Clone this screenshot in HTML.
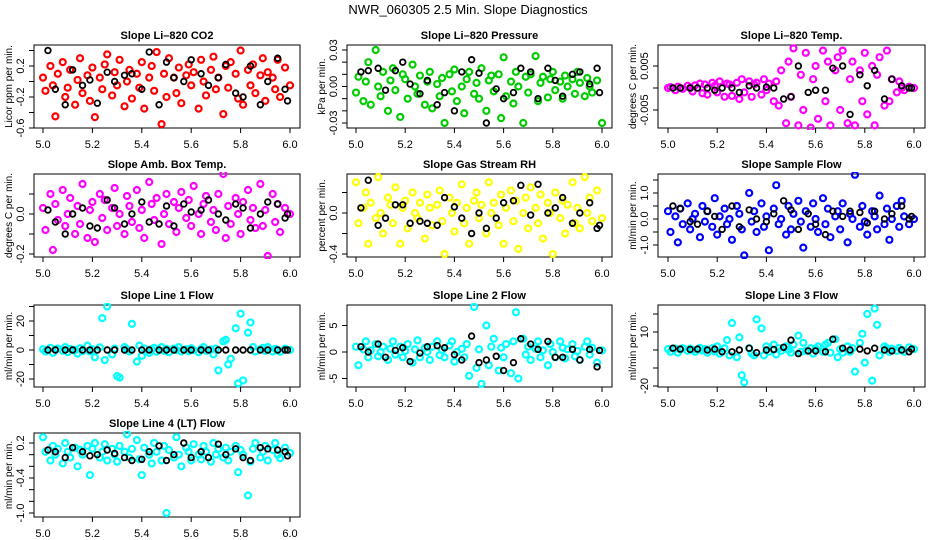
<!DOCTYPE html>
<html><head><meta charset="utf-8">
<style>
html,body{margin:0;padding:0;background:#fff;}
svg{display:block;font-family:"Liberation Sans",Arial,sans-serif;}
</style></head>
<body>
<svg id="chart" width="936" height="540" viewBox="0 0 936 540" xmlns="http://www.w3.org/2000/svg">
<defs id="defs"></defs>
<text x="468" y="14" text-anchor="middle" font-size="13">NWR_060305  2.5 Min. Slope Diagnostics</text>
</svg>
<script>
const xColored=[5.00,5.01,5.03,5.04,5.05,5.06,5.08,5.09,5.10,5.11,5.13,5.14,5.15,5.16,5.18,5.19,5.20,5.21,5.23,5.24,5.25,5.26,5.28,5.29,5.30,5.31,5.33,5.34,5.35,5.36,5.38,5.39,5.40,5.41,5.43,5.44,5.45,5.46,5.48,5.49,5.50,5.51,5.53,5.54,5.55,5.56,5.58,5.59,5.60,5.61,5.63,5.64,5.65,5.66,5.68,5.69,5.70,5.71,5.73,5.74,5.75,5.76,5.78,5.79,5.80,5.81,5.83,5.84,5.85,5.86,5.88,5.89,5.90,5.91,5.93,5.94,5.95,5.96,5.98,6.00];
const xBlack=[5.02,5.05,5.09,5.12,5.16,5.19,5.22,5.26,5.29,5.33,5.36,5.40,5.43,5.47,5.50,5.53,5.57,5.60,5.64,5.67,5.71,5.74,5.78,5.81,5.84,5.88,5.91,5.95,5.98,5.99];
const xTicks=[5.0,5.2,5.4,5.6,5.8,6.0];
const xTickLabels=["5.0","5.2","5.4","5.6","5.8","6.0"];

const co2Values=[0.05,-0.12,0.2,-0.05,-0.45,0.1,0.25,-0.2,-0.08,0.15,-0.3,0.02,0.3,-0.15,0.08,-0.25,0.18,-0.46,0.05,-0.1,0.22,0.35,-0.18,0.12,-0.05,0.28,-0.32,0.0,0.15,-0.22,0.1,-0.08,0.25,-0.35,0.05,0.2,-0.12,0.38,-0.55,0.1,-0.2,0.3,0.05,-0.15,0.18,-0.28,0.08,0.22,-0.05,0.12,-0.35,0.28,0.0,-0.18,0.15,0.32,-0.1,0.05,-0.42,0.2,-0.08,0.25,0.1,-0.22,0.4,-0.3,0.15,-0.05,0.22,-0.15,0.08,0.3,-0.25,0.12,0.05,-0.1,0.28,-0.2,0.18,-0.05];
const co2Black=[0.4,-0.1,-0.3,0.15,-0.05,0.02,-0.28,0.12,0.0,0.08,0.1,-0.1,0.38,-0.3,0.25,0.05,0.0,0.28,0.1,-0.05,0.05,0.22,-0.15,-0.2,0.2,-0.3,0.0,0.3,-0.1,-0.25];
const pressValues=[-0.005,0.008,-0.012,0.004,0.02,-0.015,0.03,0.0,-0.008,0.012,-0.02,0.005,0.015,-0.003,-0.025,0.01,0.006,-0.01,0.018,0.0,-0.006,0.009,-0.015,0.004,0.012,-0.018,0.002,-0.008,0.007,-0.03,0.01,-0.004,0.014,-0.012,0.0,-0.022,0.006,0.012,-0.006,0.003,-0.01,0.015,-0.02,0.005,0.009,-0.004,0.01,-0.026,0.024,-0.008,0.004,-0.014,0.012,0.0,-0.03,0.008,-0.005,0.01,0.025,-0.012,0.003,0.008,-0.009,0.006,0.012,-0.003,0.004,-0.01,0.009,0.0,0.006,-0.006,0.012,0.003,-0.008,0.007,0.0,-0.005,0.005,-0.03];
const pressBlack=[0.012,0.013,0.015,-0.003,0.013,0.02,0.002,-0.006,0.005,-0.015,-0.005,-0.02,0.012,0.022,0.011,-0.03,-0.002,-0.01,-0.005,0.015,0.012,-0.01,0.015,0.005,-0.008,0.01,0.012,0.002,0.015,-0.005];
const tempValues=[0,0.0002,-0.0005,0.0003,0,-0.0002,0.0005,0,-0.0008,0.0006,0.001,-0.0012,0.0008,-0.0015,0.0012,0.0005,-0.001,0.0015,-0.002,0.001,0.0008,-0.0018,0.0012,-0.0025,0.002,-0.001,0.0015,-0.002,0.0008,0.0012,-0.0015,0.002,-0.0005,0.001,-0.003,0.0015,-0.004,0.004,-0.008,0.006,-0.002,0.009,-0.0085,0.003,-0.005,0.008,-0.009,0.002,0.005,-0.007,0.0085,-0.003,0.006,-0.0085,0.004,0.007,-0.005,0.0085,-0.008,0.002,0.006,-0.0085,0.004,-0.003,0.008,-0.006,0.005,-0.0085,0.003,0.007,-0.004,0.0085,-0.003,0.002,-0.001,0.0015,0,-0.0005,0.0003,0];
const tempBlack=[0,0,0,0,0,-0.0005,0,0,-0.001,0.0005,0,0.0002,0,-0.0025,-0.002,0.005,-0.001,-0.0005,-0.0005,0.0045,0.005,-0.006,0.003,0.0005,0.004,-0.0025,0.002,0.0005,0,0];
const ambValues=[0.03,-0.08,0.1,-0.18,0.05,-0.03,0.12,-0.06,0.0,0.08,-0.1,0.04,-0.05,0.15,-0.12,0.02,0.06,-0.14,0.1,-0.02,0.07,-0.08,0.03,0.13,-0.06,0.0,-0.1,0.09,0.04,-0.04,0.12,-0.07,0.02,-0.12,0.16,0.05,-0.03,0.08,-0.15,0.0,0.1,-0.05,0.06,-0.09,0.03,0.11,-0.02,0.07,-0.06,0.14,0.0,-0.1,0.05,0.09,-0.04,0.02,-0.08,0.1,0.2,-0.12,0.04,-0.05,0.08,0.0,-0.1,0.06,0.12,-0.03,0.03,-0.07,0.15,-0.06,0.02,-0.21,0.1,-0.04,0.05,-0.09,0.03,0.0];
const ambBlack=[0.02,-0.04,-0.1,0.0,0.03,-0.06,-0.07,0.07,0.03,-0.05,0.0,0.06,-0.04,-0.05,0.04,-0.06,0.05,0.01,0.02,0.07,0.0,-0.03,0.05,0.03,-0.07,0.0,0.06,0.05,-0.02,0.0];
const rhValues=[0.3,-0.1,0.05,0.2,-0.3,0.1,-0.05,0.35,0.0,-0.2,0.15,0.08,-0.1,0.25,-0.3,0.05,0.12,-0.15,0.2,0.0,-0.05,0.1,-0.25,0.18,0.05,-0.12,0.08,0.22,-0.08,-0.4,0.15,0.0,-0.18,0.1,0.28,-0.1,0.05,-0.3,0.12,0.2,-0.05,0.08,-0.2,0.3,0.0,0.1,-0.12,0.18,-0.3,0.05,0.22,-0.08,0.12,-0.35,0.0,0.15,-0.15,0.25,0.05,-0.1,0.18,-0.25,0.1,0.0,-0.4,0.2,-0.05,0.12,-0.2,0.08,0.3,-0.1,0.05,-0.15,0.35,0.0,0.15,-0.08,0.22,-0.05];
const rhBlack=[0.05,0.32,-0.12,-0.05,0.08,0.08,-0.1,-0.08,-0.1,-0.12,0.15,0.06,-0.05,-0.2,0.0,-0.15,-0.05,0.1,0.12,0.27,-0.02,0.28,0.0,0.05,0.15,-0.1,0.0,0.1,-0.15,-0.12];
const sampleValues=[0.3,-0.5,0.1,-0.9,0.4,-0.2,0.6,-0.4,0.0,0.2,-0.7,0.5,-0.1,0.3,-0.3,0.8,-0.6,0.1,0.4,-0.2,0.0,-0.8,0.5,0.2,-0.4,-1.4,1.0,-0.1,0.3,-0.5,0.6,-0.3,0.1,-1.2,0.4,1.3,-0.2,0.0,-0.6,0.5,-0.4,0.2,0.7,-0.1,-1.1,0.3,-0.3,0.6,0.0,-0.5,0.8,-0.2,0.4,-0.7,0.1,0.3,-0.4,0.6,-0.9,0.2,0.0,1.7,-0.3,0.5,-0.1,-0.6,0.3,0.1,-0.4,0.9,-0.2,0.4,-0.8,0.0,0.5,-0.3,0.7,0.1,-0.2,0.0];
const sampleBlack=[0.5,0.4,-0.1,-0.2,0.3,0.1,-0.4,0.5,-0.3,0.35,0.0,-0.1,0.2,0.7,0.35,-0.4,0.2,-0.2,-0.6,0.3,0.1,0.3,0.25,-0.15,0.3,0.0,0.2,0.5,0.0,0.1];
const line1Values=[0.5,-1,1.5,-2,0.3,1,-0.5,2,-1.5,0.8,0,-2.5,1.2,-0.8,3,-1,0.5,-5,1.8,22,-7,30,-3,1,-18,-19,2,0.5,-1,18,-8,3,-4,1,-2,0.5,1.5,-1.2,2,-0.5,0.8,-1.5,1,0,2,-1,0.5,-0.8,1.2,0,-1.5,0.6,2,-0.5,0.3,-3,1,-14,6,7,-10,-6,15,-23,25,-21,12,19,2,-1,0.5,1.5,-0.6,2,-1,0.8,0,-1.2,1,0];
const line1Black=[0,0,0,0,0,0,0,0,0,0,0,0,0,0,0,0,0,0,0,0,0,0,0,0,0,0,0,0,0,0];
const line2Values=[1,-2.5,0.5,2,-1,0.3,1.5,-0.8,0,1,-1.5,0.6,2,-0.5,1,-1,0.2,1.5,-2,0.5,2.2,-1,0.8,0,-1.5,1,2,-0.6,0.4,-1,1.2,2,-1.8,0,0.6,-1,1.5,-4.5,8.5,-3,0.5,-6,5,-2.5,1,2.5,-3.5,0.8,-1,1.5,-4,2,7.5,-5,2.5,-0.5,1,-1.5,0.6,2,-1,0.3,-2.5,1.5,0,-1,2,0.8,-1.2,0.5,1.5,-0.8,0.2,-1.5,1,2,-0.5,0.8,-2,0.3];
const line2Black=[1,0,1.5,-1,0.3,0.8,-1.8,-0.2,1,1.2,0.8,-0.5,-1.5,3,-2,-1.5,-0.8,-3.5,-2,2.5,1.5,0.5,2,-1,-1,0.5,-1.5,0.5,-2.8,0.3];
const line3Values=[0.5,-1,0.8,-1.5,0.3,1,-0.5,0.8,0,-1,1.2,-0.3,0.5,-1.5,1,-0.8,2,-2,1,5.5,-3,15,-4,7,-14,-18,1,-2,-3,17,12,-3,2,-1,3,-2.5,1,-0.5,2,0,-1.5,3,8,-1,4,-0.5,1,-2,0.8,2,-1,3,4,-1.5,6,-4,0.5,-1.5,2,-1,1,-12,4,9,-7,20,-17,23,14,-3,2,1,-1,0.8,-0.5,1.2,0,-1,1.5,0.5];
const line3Black=[1,0.5,0.3,0.5,0,0.5,-1,-1,0,1,-1.5,0,0.3,1.5,5.5,-2,-0.5,-0.5,-1,6,1,0,0.5,-0.5,1,0,-0.5,0,-1,0.5];
const line4Values=[0.3,0.05,-0.1,0.15,0.0,0.1,-0.15,0.2,0.05,-0.05,0.12,-0.2,0.08,0.0,0.15,-0.35,0.1,0.2,-0.05,0.05,0.18,-0.1,0.1,0.0,-0.12,0.15,0.05,0.35,-0.05,0.1,0.25,-0.08,-0.35,0.12,0.0,-0.15,0.2,0.05,-0.1,0.15,-1.0,0.08,-0.05,0.3,0.0,-0.2,0.12,0.05,-0.1,0.18,0.0,-0.08,0.15,0.05,-0.12,0.2,0.0,0.1,-0.05,0.12,-0.1,0.05,0.15,-0.3,0.08,0.0,-0.7,-0.12,0.1,0.2,-0.05,0.05,0.15,-0.1,0.08,0.2,0.0,-0.06,0.12,0.03];
const line4Black=[0.08,0.05,-0.05,0.12,0.05,-0.02,0.0,0.08,0.02,-0.05,-0.1,-0.08,0.05,0.15,-0.1,0.0,0.2,-0.05,0.05,-0.05,0.18,0.0,0.1,-0.05,-0.1,0.12,0.1,0.08,0.05,-0.02];

const co2Ticks=[0.4,0.2,0,-0.2,-0.4,-0.6], co2Labels=["","0.2","","-0.2","","-0.6"];
const pressTicks=[0.03,0.02,0.01,0,-0.01,-0.02,-0.03], pressLabels=["0.03","","","0.00","","","-0.03"];
const tempTicks=[0.005,0,-0.005], tempLabels=["0.005","","-0.005"];
const ambTicks=[0.1,0,-0.1,-0.2], ambLabels=["","0.0","","-0.2"];
const rhTicks=[0.2,0,-0.2,-0.4], rhLabels=["","0.0","","-0.4"];
const sampleTicks=[1.5,1,0.5,0,-0.5,-1], sampleLabels=["","1.0","","0.0","","-1.0"];
const line1Ticks=[30,20,10,0,-10,-20], line1Labels=["","20","","0","","-20"];
const line2Ticks=[5,0,-5], line2Labels=["5","0","-5"];
const line3Ticks=[20,10,0,-10,-20], line3Labels=["","10","","","-20"];
const line4Ticks=[0.2,0,-0.2,-0.4,-0.6,-0.8,-1.0], line4Labels=["0.2","","","-0.4","","","-1.0"];

const NS="http://www.w3.org/2000/svg";
const svg=document.getElementById('chart');
const defs=document.getElementById('defs');
const cols=[{l:34,r:300,x5:43,x6:290,lab:10,tl:24},{l:347,r:612,x5:356,x6:602,lab:323,tl:337},{l:658,r:925,x5:668,x6:914,lab:634,tl:648}];
const rows=[{t:45,b:128},{t:174,b:257},{t:305,b:387},{t:433,b:517}];
const panels=[
 {name:'co2',title:'Slope Li\u2013820 CO2',ylab:'Licor ppm per min.',c:0,r:0,color:'#ff0000',vals:co2Values,blk:co2Black,a:[0.2,66],b:[-0.6,128],ticks:co2Ticks,labels:co2Labels},
 {name:'pressure',title:'Slope Li\u2013820 Pressure',ylab:'kPa per min.',c:1,r:0,color:'#00cc00',vals:pressValues,blk:pressBlack,a:[0.03,50],b:[-0.03,123],ticks:pressTicks,labels:pressLabels},
 {name:'li820-temp',title:'Slope Li\u2013820 Temp.',ylab:'degrees C per min.',c:2,r:0,color:'#ff00ff',vals:tempValues,blk:tempBlack,a:[0.005,66],b:[-0.005,110],ticks:tempTicks,labels:tempLabels},
 {name:'amb-box-temp',title:'Slope Amb. Box Temp.',ylab:'degrees C per min.',c:0,r:1,color:'#ff00ff',vals:ambValues,blk:ambBlack,a:[0,214],b:[-0.2,254],ticks:ambTicks,labels:ambLabels},
 {name:'gas-stream-rh',title:'Slope Gas Stream RH',ylab:'percent per min.',c:1,r:1,color:'#ffff00',vals:rhValues,blk:rhBlack,a:[0,213],b:[-0.4,254],ticks:rhTicks,labels:rhLabels},
 {name:'sample-flow',title:'Slope Sample Flow',ylab:'ml/min per min.',c:2,r:1,color:'#0000ff',vals:sampleValues,blk:sampleBlack,a:[1,193],b:[-1,245],ticks:sampleTicks,labels:sampleLabels},
 {name:'line1-flow',title:'Slope Line 1 Flow',ylab:'ml/min per min.',c:0,r:2,color:'#00ffff',vals:line1Values,blk:line1Black,a:[20,321],b:[-20,379],ticks:line1Ticks,labels:line1Labels},
 {name:'line2-flow',title:'Slope Line 2 Flow',ylab:'ml/min per min.',c:1,r:2,color:'#00ffff',vals:line2Values,blk:line2Black,a:[5,325.5],b:[-5,378.5],ticks:line2Ticks,labels:line2Labels},
 {name:'line3-flow',title:'Slope Line 3 Flow',ylab:'ml/min per min.',c:2,r:2,color:'#00ffff',vals:line3Values,blk:line3Black,a:[10,332],b:[-20,386],ticks:line3Ticks,labels:line3Labels},
 {name:'line4-flow',title:'Slope Line 4 (LT) Flow',ylab:'ml/min per min.',c:0,r:3,color:'#00ffff',vals:line4Values,blk:line4Black,a:[0.2,443],b:[-1.0,513],ticks:line4Ticks,labels:line4Labels}
];
function mk(tag,attrs,parent){const e=document.createElementNS(NS,tag);for(const k in attrs)e.setAttribute(k,attrs[k]);parent.appendChild(e);return e;}
panels.forEach((p,pi)=>{
 const C=cols[p.c],R=rows[p.r];
 const cp=mk('clipPath',{id:'clip'+pi},defs);
 mk('rect',{x:C.l-2,y:R.t-2,width:C.r-C.l+4,height:R.b-R.t+4},cp);
 const g=mk('g',{},svg);
 
 
 const xs=v=>C.x5+(v-5)*(C.x6-C.x5);
 const ys=v=>p.a[1]+(v-p.a[0])*(p.b[1]-p.a[1])/(p.b[0]-p.a[0]);
 const t=mk('text',{x:(C.l+C.r)/2,y:R.t-6,'text-anchor':'middle','font-size':'11','font-weight':'bold'},g);
 t.textContent=p.title;
 
 
 const box=mk('rect',{x:C.l,y:R.t,width:C.r-C.l,height:R.b-R.t,fill:'none',stroke:'#000','stroke-width':'1'},g);
 
 
 xTicks.forEach((v,i)=>{
  const x=xs(v);
  const tk=mk('line',{x1:x,x2:x,y1:R.b,y2:R.b+5,stroke:'#000'},g);
  
  
  const tl=mk('text',{x:x,y:R.b+20,'text-anchor':'middle','font-size':'11'},g);
  tl.textContent=xTickLabels[i];
  
  
 });
 p.ticks.forEach((v,i)=>{
  const y=ys(v);
  const tk=mk('line',{x1:C.l-5,x2:C.l,y1:y,y2:y,stroke:'#000'},g);
  
  
  if(p.labels[i]){
   const tl=mk('text',{x:C.tl,y:y,'text-anchor':'middle','font-size':'11',transform:'rotate(-90 '+C.tl+' '+y+')'},g);
   tl.textContent=p.labels[i];
   
   
  }
 });
 const my=(R.t+R.b)/2;
 const yl=mk('text',{x:C.lab+2,y:my,'text-anchor':'middle','font-size':'10',transform:'rotate(-90 '+(C.lab+2)+' '+my+')'},g);
 yl.textContent=p.ylab;
 
 
 const pts=mk('g',{'clip-path':'url(#clip'+pi+')'},g);
 
 
 const n=Math.min(xColored.length,p.vals.length);
 for(let i=0;i<n;i++){
  const c=mk('circle',{cx:xs(xColored[i]),cy:ys(p.vals[i]),r:'3',fill:'none',stroke:p.color,'stroke-width':'2.2'},pts);
  
  
 }
 const m=Math.min(xBlack.length,p.blk.length);
 for(let i=0;i<m;i++){
  const c=mk('circle',{cx:xs(xBlack[i]),cy:ys(p.blk[i]),r:'2.8',fill:'none',stroke:'#000','stroke-width':'1.8'},pts);
  
  
 }
});
</script>
</body></html>
